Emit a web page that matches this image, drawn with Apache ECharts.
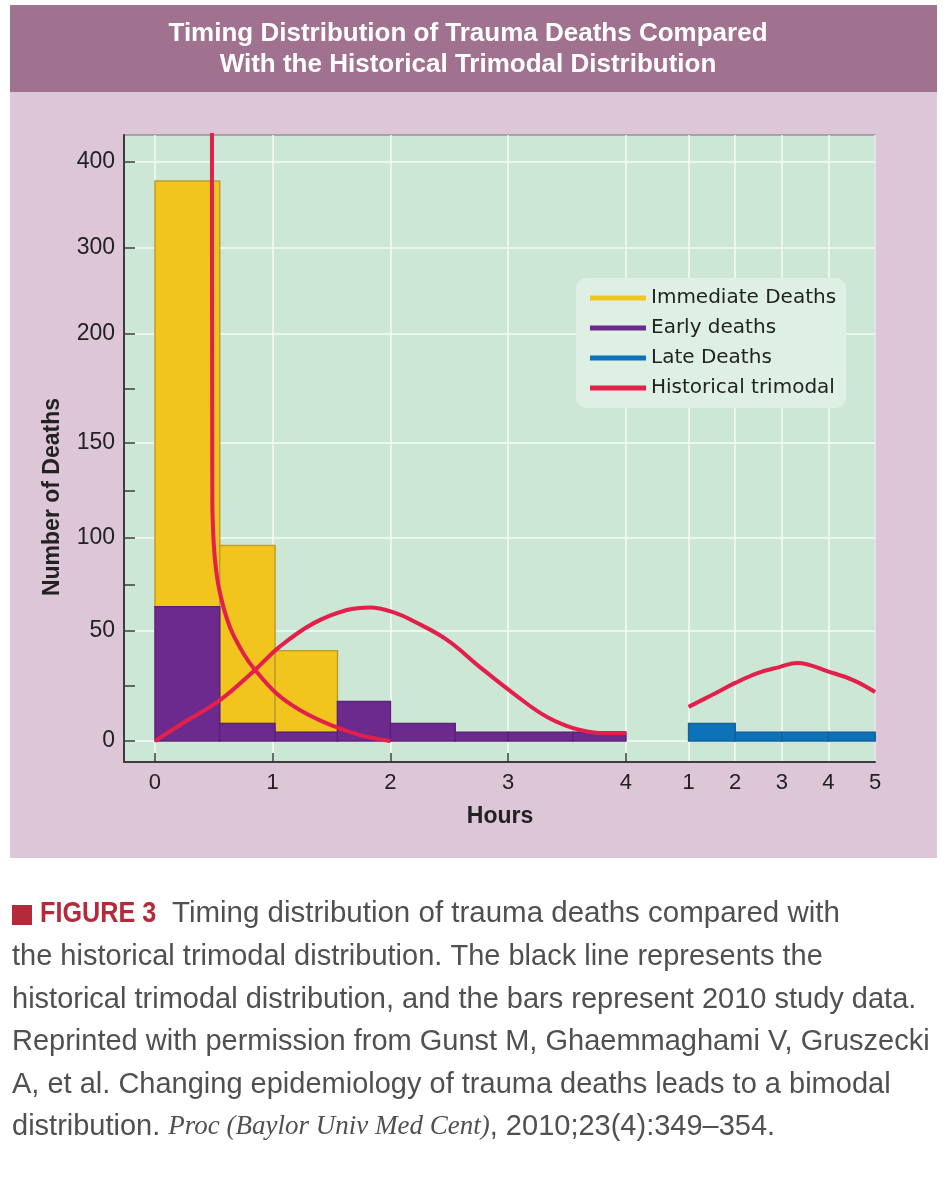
<!DOCTYPE html>
<html><head><meta charset="utf-8">
<script src="https://cdn.jsdelivr.net/npm/echarts@6/dist/echarts.min.js"></script>
<style>html,body{margin:0;padding:0;background:#fff}#c{width:949px;height:1200px}</style>
</head><body><div id="c"></div>
<script>
// ---------- data ----------
const HOUR_BIN_EDGES = [0, 0.55, 1.02, 1.55, 2.0, 2.55, 3.0, 3.55, 4.0];
const EARLY_DEATHS = [63, 8, 4, 18, 8, 4, 4, 4];
const IMMEDIATE_DEATHS = [315, 88, 37, 0, 0, 0, 0, 0]; // stacked above early deaths
const DAY_BIN_EDGES = [1, 2, 3, 4, 5];
const LATE_DEATHS = [8, 4, 4, 4];
const HIST_IMMEDIATE = [[0.484,450],[0.484,300],[0.485,200],[0.486,160],[0.487,126],[0.49,110],[0.51,88],[0.552,70.4],[0.637,52],[0.75,39.9],[0.85,32.3],[1.03,21.7],[1.23,14.1],[1.49,7.3],[1.74,2.7],[2.0,0]];
const HIST_EARLY = [[0,0],[0.212,7.3],[0.552,18.6],[0.85,32.3],[1.06,42.9],[1.345,54.1],[1.63,61.3],[1.83,62.7],[2.05,59.5],[2.19,55.5],[2.48,46],[2.76,33.6],[3.04,21.8],[3.33,10.9],[3.61,5],[3.89,3.6],[4.0,3.6]];
const HIST_LATE = [[1.0,15.5],[1.5,20.9],[2.0,26.4],[2.48,30.9],[2.95,33.6],[3.33,35.5],[4.02,31.4],[4.53,27.7],[5.0,22.3]];
const Y_TICKS = [0, 50, 100, 150, 200, 300, 400];
const Y_MINOR_TICKS = [25, 75, 125, 175];
const HOUR_TICKS = [0, 1, 2, 3, 4];
const DAY_TICKS = [1, 2, 3, 4, 5];
const LEGEND_NAMES = ['Immediate Deaths', 'Early deaths', 'Late Deaths', 'Historical trimodal'];

// ---------- non-uniform y scale of the original (piecewise linear) ----------
const Y_SCALE_VAL = [0, 50, 100, 150, 200, 300, 400];
const Y_SCALE_POS = [0, 110, 203, 298, 407, 493, 579];
function ty(v) {
  const n = Y_SCALE_VAL.length;
  let i = 0;
  while (i < n - 2 && v > Y_SCALE_VAL[i + 1]) i++;
  const v0 = Y_SCALE_VAL[i], v1 = Y_SCALE_VAL[i + 1], p0 = Y_SCALE_POS[i], p1 = Y_SCALE_POS[i + 1];
  return p0 + (v - v0) / (v1 - v0) * (p1 - p0);
}
function inv(p) {
  for (let i = 0; i < Y_SCALE_POS.length; i++) if (Math.abs(Y_SCALE_POS[i] - p) < 0.01) return Y_SCALE_VAL[i];
  return '';
}

const C_YEL = '#f2c41e', C_PUR = '#6c2a8e', C_BLU = '#0a73b9', C_RED = '#e3204b';

function binData(edges, lows, highs) {
  const out = [];
  for (let i = 0; i < edges.length - 1; i++) {
    if (highs[i] > lows[i]) out.push([edges[i], edges[i + 1], ty(lows[i]), ty(highs[i])]);
  }
  return out;
}
const zeros = HOUR_BIN_EDGES.slice(1).map(() => 0);
const earlyData = binData(HOUR_BIN_EDGES, zeros, EARLY_DEATHS);
const immData = binData(HOUR_BIN_EDGES, EARLY_DEATHS, EARLY_DEATHS.map((e, i) => e + IMMEDIATE_DEATHS[i]));
const lateData = binData(DAY_BIN_EDGES, DAY_BIN_EDGES.slice(1).map(() => 0), LATE_DEATHS);

function rectRenderer(fill, stroke) {
  return function (params, api) {
    const a = api.coord([api.value(0), api.value(3)]);
    const b = api.coord([api.value(1), api.value(2)]);
    return {
      type: 'rect',
      shape: { x: a[0], y: a[1], width: b[0] - a[0], height: b[1] - a[1] },
      style: { fill: fill, stroke: stroke, lineWidth: 1.5 }
    };
  };
}

const FONT = '"Liberation Sans", Arial, sans-serif';
const CAP_FONT = '"Liberation Sans", Arial, sans-serif';

const chart = echarts.init(document.getElementById('c'), null, { renderer: 'canvas', width: 949, height: 1200 });

const captionLines = [
  'the historical trimodal distribution. The black line represents the',
  'historical trimodal distribution, and the bars represent 2010 study data.',
  'Reprinted with permission from Gunst M, Ghaemmaghami V, Gruszecki',
  'A, et al. Changing epidemiology of trauma deaths leads to a bimodal'
];
const graphics = [
  { type: 'rect', z: -100, silent: true, shape: { x: 10, y: 5, width: 927, height: 87 }, style: { fill: '#a0728f' } },
  { type: 'rect', z: -100, silent: true, shape: { x: 10, y: 92, width: 927, height: 766 }, style: { fill: '#dcc6d7' } },
  { type: 'text', x: 468, y: 34, style: { text: 'Timing Distribution of Trauma Deaths Compared', font: 'bold 26px ' + FONT, fill: '#fff', align: 'center', verticalAlign: 'middle' } },
  { type: 'text', x: 468, y: 65, style: { text: 'With the Historical Trimodal Distribution', font: 'bold 26px ' + FONT, fill: '#fff', align: 'center', verticalAlign: 'middle' } },
  { type: 'text', x: 53, y: 497, rotation: Math.PI / 2, style: { text: 'Number of Deaths', font: 'bold 23px ' + FONT, fill: '#222', align: 'center', verticalAlign: 'middle' } },
  { type: 'text', x: 500, y: 817, style: { text: 'Hours', font: 'bold 23px ' + FONT, fill: '#222', align: 'center', verticalAlign: 'middle' } },
  { type: 'rect', shape: { x: 12, y: 905, width: 20, height: 20 }, style: { fill: '#b52a3a' } },
  { type: 'text', x: 40, y: 914, scaleX: 0.84, style: { text: 'FIGURE 3', font: 'bold 30px ' + CAP_FONT, fill: '#b52a3a', verticalAlign: 'middle' } },
  { type: 'text', x: 172, y: 914, style: { text: 'Timing distribution of trauma deaths compared with', font: '29.5px ' + CAP_FONT, fill: '#505050', verticalAlign: 'middle' } }
];
captionLines.forEach((t, i) => {
  graphics.push({ type: 'text', x: 12, y: 957 + i * 42.6, style: { text: t, font: '29px ' + CAP_FONT, fill: '#505050', verticalAlign: 'middle' } });
});
graphics.push({ type: 'text', x: 12, y: 1127, style: {
  text: 'distribution. {i|Proc (Baylor Univ Med Cent)}, 2010;23(4):349\u2013354.',
  font: '29px ' + CAP_FONT, fill: '#505050', verticalAlign: 'middle',
  rich: { i: { fontFamily: '"Liberation Serif", serif', fontStyle: 'italic', fontSize: 27, fill: '#505050' } }
} });

const option = {
  animation: false,
  backgroundColor: '#ffffff',
  graphic: graphics,
  grid: { left: 124, top: 135, width: 751, height: 627, show: true, backgroundColor: '#cce7d6', borderColor: '#9c8e99', borderWidth: 1.5 },
  legend: {
    orient: 'vertical', left: 576, top: 278,
    data: LEGEND_NAMES,
    icon: 'rect', itemWidth: 56, itemHeight: 5, itemGap: 10,
    padding: [10, 10, 10, 14],
    backgroundColor: '#def0e4', borderRadius: 10,
    textStyle: { fontFamily: '"DejaVu Sans", sans-serif', fontSize: 20, lineHeight: 20, color: '#222' }
  },
  xAxis: [
    {
      type: 'value', min: -0.263, max: 6.115, position: 'bottom', gridIndex: 0,
      axisLine: { show: true, onZero: false, lineStyle: { color: '#3d3d3d', width: 2 } },
      axisTick: { show: true, inside: true, length: 9, customValues: HOUR_TICKS, lineStyle: { color: '#3d3d3d', width: 1.5 } },
      axisLabel: { customValues: HOUR_TICKS, fontFamily: FONT, fontSize: 22, color: '#222', margin: 10 },
      splitLine: { show: true, lineStyle: { color: '#f6fbf7', width: 1.5 } }
    },
    {
      type: 'value', min: -11.116, max: 5, position: 'bottom', gridIndex: 0,
      axisLine: { show: false },
      axisTick: { show: true, inside: true, length: 9, customValues: DAY_TICKS, lineStyle: { color: '#3d3d3d', width: 1.5 } },
      axisLabel: { customValues: DAY_TICKS, fontFamily: FONT, fontSize: 22, color: '#222', margin: 10 },
      splitLine: { show: true, lineStyle: { color: '#f6fbf7', width: 1.5 } }
    }
  ],
  yAxis: [
    {
      type: 'value', min: -21, max: 606,
      axisLine: { show: true, onZero: false, lineStyle: { color: '#3d3d3d', width: 2 } },
      axisTick: { show: true, inside: true, length: 11, customValues: Y_TICKS.concat(Y_MINOR_TICKS).map(ty), lineStyle: { color: '#3d3d3d', width: 1.5 } },
      axisLabel: { customValues: Y_TICKS.map(ty), formatter: (v) => String(inv(v)), fontFamily: FONT, fontSize: 23, color: '#222', margin: 9 },
      splitLine: { show: false }
    },
    {
      type: 'value', min: -21, max: 606, show: true,
      axisLine: { show: false }, axisLabel: { show: false },
      axisTick: { show: false, customValues: Y_TICKS.map(ty) },
      splitLine: { show: true, lineStyle: { color: '#f6fbf7', width: 1.5 } }
    }
  ],
  series: [
    { name: 'Immediate Deaths', type: 'custom', xAxisIndex: 0, yAxisIndex: 0, itemStyle: { color: C_YEL },
      renderItem: rectRenderer(C_YEL, '#bf9f2c'), data: immData, encode: { x: [0, 1], y: [2, 3] }, z: 2 },
    { name: 'Early deaths', type: 'custom', xAxisIndex: 0, yAxisIndex: 0, itemStyle: { color: C_PUR },
      renderItem: rectRenderer(C_PUR, '#5a2476'), data: earlyData, encode: { x: [0, 1], y: [2, 3] }, z: 2 },
    { name: 'Late Deaths', type: 'custom', xAxisIndex: 1, yAxisIndex: 0, itemStyle: { color: C_BLU },
      renderItem: rectRenderer(C_BLU, '#1b5f98'), data: lateData, encode: { x: [0, 1], y: [2, 3] }, z: 2 },
    { name: 'Historical trimodal', type: 'line', xAxisIndex: 0, yAxisIndex: 0, showSymbol: false, smooth: 0.35,
      lineStyle: { color: C_RED, width: 4 }, itemStyle: { color: C_RED }, z: 5,
      data: HIST_IMMEDIATE.map(p => [p[0], ty(p[1])]) },
    { name: 'Historical trimodal', type: 'line', xAxisIndex: 0, yAxisIndex: 0, showSymbol: false, smooth: 0.4,
      lineStyle: { color: C_RED, width: 4 }, itemStyle: { color: C_RED }, z: 5,
      data: HIST_EARLY.map(p => [p[0], ty(p[1])]) },
    { name: 'Historical trimodal', type: 'line', xAxisIndex: 1, yAxisIndex: 0, showSymbol: false, smooth: 0.4,
      lineStyle: { color: C_RED, width: 4 }, itemStyle: { color: C_RED }, z: 5,
      data: HIST_LATE.map(p => [p[0], ty(p[1])]) }
  ]
};
chart.setOption(option);
</script>
</body></html>
